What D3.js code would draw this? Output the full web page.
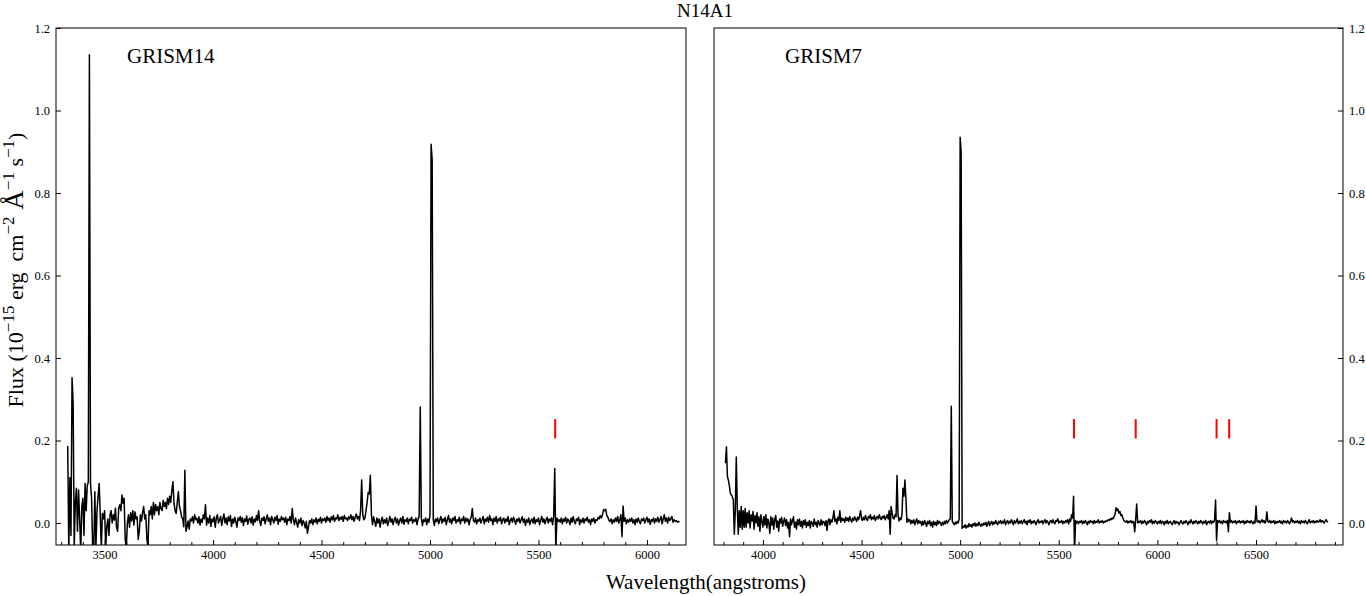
<!DOCTYPE html>
<html><head><meta charset="utf-8">
<script src="https://cdn.jsdelivr.net/npm/d3@7"></script>
<style>body{margin:0;background:#fff} svg text{font-family:"Liberation Serif","Times New Roman",serif;fill:#000}</style>
</head><body><svg id="c" width="1366" height="596"></svg>
<script>
const title = "N14A1";
const panelNames = ["GRISM14", "GRISM7"];
const yTicks = [0, 0.2, 0.4, 0.6, 0.8, 1.0, 1.2];
const xTicks14 = [3500, 4000, 4500, 5000, 5500, 6000];
const xTicks7 = [4000, 4500, 5000, 5500, 6000, 6500];
const skyLines14 = [5577];
const skyLines7 = [5577, 5890, 6300, 6364];
const markerRange = [0.205, 0.252];
const stepA = 5; // sampling step (Å) of each row: [start wavelength, fluxes...]

const grism14Rows = [
[3330, 0.187,-0.07,0.11,-0.03,0.352,0.29,-0.06,0.05,0.084,-0.02,0.08,0.01,-0.07,0.04,0.06,-0.03,0.096,0.03,0.09,0.10],
[3430, 1.135,0.096,0.06,-0.06,-0.07,0.076,-0.06,0.03,0.065,0.096,0.02,-0.06,0.023,0.01,0.03,-0.06,-0.01,0.01,-0.03,0.02],
[3530, 0.03,0.0,0.02,0.007,0.036,-0.01,-0.02,0.036,0.044,0.03,0.068,0.048,0.06,-0.04,-0.06,0.0,0.02,-0.01,0.025,0.005],
[3630, 0.03,-0.005,0.027,0.01,0.015,-0.04,-0.02,0.02,0.005,0.025,0.04,0.01,0.02,-0.04,-0.055,0.03,0.02,0.04,0.01,0.05],
[3730, 0.02,0.045,0.03,0.04,0.02,0.05,0.035,0.03,0.055,0.04,0.05,0.035,0.06,0.045,0.065,0.05,0.08,0.10,0.048,0.03],
[3830, 0.023,0.05,0.076,0.04,0.03,0.015,0.01,-0.009,0.128,-0.02,-0.01,0.005,-0.015,0.01,0.005,0.015,0.0,0.02,0.008,0.012],
[3930, 0.0,0.015,-0.005,0.01,0.002,0.02,0.01,0.044,-0.005,0.012,0.0,0.018,-0.008,0.01,0.003,0.015,-0.01,0.012,0.02,0.0],
[4030, 0.008,0.016,-0.006,0.01,0.022,0.0,0.012,-0.004,0.015,0.005,0.018,-0.008,0.01,0.0,0.014,0.004,-0.01,0.012,0.006,0.016],
[4130, 0.002,0.013,-0.006,0.01,0.004,0.017,-0.003,0.009,0.012,0.0,0.015,-0.005,0.01,0.003,0.018,0.006,0.03,0.004,-0.006,0.012],
[4230, 0.006,0.015,-0.002,0.01,0.02,0.004,0.012,-0.004,0.016,0.008,0.0,0.014,0.006,0.018,-0.003,0.01,0.004,0.016,0.008,0.012],
[4330, 0.002,0.014,-0.004,0.01,0.006,0.016,0.0,0.035,0.008,-0.004,0.012,0.002,-0.01,0.008,0.0,0.012,-0.006,0.006,0.0,-0.012],
[4430, 0.004,-0.025,-0.008,0.006,0.0,0.01,-0.004,0.008,0.002,0.012,-0.002,0.009,0.004,0.014,0.0,0.01,0.006,0.012,0.002,0.016],
[4530, 0.006,0.012,0.002,0.015,0.008,0.018,0.004,0.012,0.01,0.02,0.006,0.014,0.009,0.016,0.004,0.018,0.01,0.012,0.006,0.015],
[4630, 0.01,0.02,0.008,0.016,0.004,0.014,0.022,0.01,0.016,0.006,0.03,0.104,0.02,0.008,0.012,0.03,0.05,0.074,0.07,0.116],
[4730, 0.02,-0.004,0.015,0.004,-0.008,0.012,0.0,0.01,-0.01,0.006,0.014,-0.002,0.008,0.0,0.012,-0.006,0.004,0.016,0.002,0.01],
[4830, -0.004,0.008,0.014,0.0,0.01,-0.005,0.006,0.012,0.0,0.016,-0.003,0.008,0.004,0.012,-0.002,0.01,0.006,0.014,0.0,0.008],
[4930, 0.004,0.012,-0.004,0.01,0.016,0.281,0.012,-0.006,0.008,0.004,0.012,-0.004,0.01,0.002,0.02,0.918,0.88,0.008,-0.006,0.01],
[5030, 0.004,0.012,-0.002,0.008,0.016,0.0,0.01,0.004,0.014,-0.004,0.008,0.018,0.002,0.01,-0.002,0.012,0.006,0.016,0.0,0.008],
[5130, 0.004,0.014,-0.002,0.01,0.006,0.016,0.0,0.012,0.004,0.01,-0.004,0.008,0.014,0.035,0.006,0.002,0.012,-0.002,0.008,0.004],
[5230, 0.012,0.0,0.008,0.016,-0.002,0.01,0.004,0.014,0.002,0.018,0.006,0.01,-0.004,0.012,0.004,0.016,0.0,0.01,0.006,0.014],
[5330, -0.002,0.008,0.012,0.0,0.01,0.004,0.016,-0.004,0.006,0.012,0.002,0.014,0.006,-0.003,0.01,0.004,0.012,0.0,0.008,0.015],
[5430, 0.002,0.01,-0.006,0.008,0.002,0.012,-0.004,0.006,0.01,0.0,0.014,-0.002,0.008,0.004,0.012,-0.004,0.006,0.016,0.002,0.01],
[5530, -0.002,0.008,0.014,0.0,0.01,0.004,0.012,-0.004,0.016,0.132,-0.065,0.012,0.004,0.008,0.002,0.012,-0.002,0.01,0.004,0.014],
[5630, 0.0,0.01,0.006,-0.004,0.012,0.002,0.016,0.004,-0.002,0.01,0.006,0.014,-0.004,0.008,0.002,0.012,0.0,0.01,0.006,0.014],
[5730, 0.002,0.008,-0.004,0.01,0.004,0.012,0.0,0.008,0.006,0.014,0.01,0.018,0.012,0.02,0.033,0.03,0.033,0.018,0.014,0.006],
[5830, 0.004,0.01,-0.002,0.008,0.002,0.012,0.004,0.016,0.0,0.008,0.02,-0.033,0.041,0.004,0.012,-0.002,0.008,0.002,0.01,0.004],
[5930, 0.012,0.0,0.008,-0.004,0.01,0.002,0.012,0.004,-0.002,0.01,0.006,0.012,0.0,0.008,0.014,0.002,0.01,-0.003,0.008,0.004],
[6030, 0.012,0.0,0.01,0.004,0.014,0.002,0.008,0.016,-0.002,0.01,0.02,0.004,0.012,0.0,0.014,0.006,0.01,0.016,0.002,0.008],
[6130, 0.004,0.006,0.002,0.004,0.002]
];

const grism7Rows = [
[3810, 0.145,0.185,0.112,0.104,0.09,0.072,0.068,0.064,0.056,-0.027,0.03,0.16,0.04,-0.027,0.03,-0.01,0.04,-0.015,0.03,-0.01],
[3910, 0.035,-0.01,0.025,0.0,0.03,-0.012,0.02,0.005,0.028,-0.015,0.018,0.0,0.025,-0.008,0.015,-0.02,0.02,0.004,-0.01,0.016],
[4010, -0.005,0.02,-0.012,0.01,0.0,-0.025,0.015,-0.005,0.012,-0.015,0.008,0.018,-0.01,0.005,-0.02,0.01,0.0,0.014,-0.008,0.004],
[4110, 0.012,-0.006,0.008,-0.012,0.002,-0.033,0.01,-0.004,0.006,0.015,-0.01,0.002,-0.015,0.008,-0.004,0.01,-0.008,0.004,-0.012,0.006],
[4210, -0.004,0.008,-0.01,0.002,-0.006,0.006,-0.012,0.004,0.0,-0.008,0.01,-0.004,0.002,-0.01,0.006,0.0,-0.006,0.008,-0.004,0.004],
[4310, 0.002,-0.006,0.006,-0.018,0.004,0.01,-0.004,0.008,0.002,0.012,0.03,0.004,0.01,-0.002,0.014,0.006,0.03,0.002,0.012,0.006],
[4410, 0.01,0.002,0.014,0.006,0.012,0.004,0.016,0.008,0.002,0.012,0.006,0.015,0.01,0.004,0.014,0.008,0.018,0.03,0.01,0.006],
[4510, 0.014,0.008,0.018,0.01,0.006,0.016,0.012,0.02,0.008,0.014,0.01,0.018,0.006,0.012,0.016,0.01,0.02,0.012,0.008,0.016],
[4610, 0.012,0.018,0.008,0.014,0.02,0.01,0.03,-0.027,0.04,0.025,0.012,0.01,0.02,0.015,0.115,0.02,0.005,0.012,0.008,0.02],
[4710, 0.084,0.065,0.104,0.06,0.002,0.01,0.004,0.008,-0.002,0.006,0.0,0.008,-0.004,0.004,0.01,-0.002,0.006,0.0,0.004,-0.006],
[4810, 0.004,-0.004,0.006,0.0,-0.008,0.004,-0.002,0.006,-0.006,0.002,-0.01,0.004,-0.004,0.002,-0.006,0.006,-0.002,0.004,0.0,-0.006],
[4910, 0.002,-0.004,0.004,-0.002,0.006,0.0,0.004,0.008,0.01,0.283,0.004,0.0,-0.004,0.002,-0.002,0.004,0.0,0.01,0.935,0.9],
[5010, -0.013,-0.008,-0.01,-0.004,-0.012,-0.006,-0.01,-0.002,-0.008,-0.004,-0.01,-0.002,-0.006,0.0,-0.008,-0.002,-0.006,0.002,-0.004,-0.008],
[5110, -0.002,-0.006,0.0,-0.004,0.002,-0.008,-0.002,0.004,-0.006,0.0,0.004,-0.004,0.002,-0.002,0.006,0.0,-0.004,0.004,0.0,0.006],
[5210, -0.002,0.004,0.0,0.008,-0.004,0.002,0.006,-0.002,0.004,0.0,0.008,0.002,-0.004,0.006,0.0,0.004,0.01,-0.002,0.004,0.0],
[5310, 0.006,-0.002,0.004,0.008,0.0,0.004,-0.004,0.006,0.002,0.008,-0.002,0.004,0.0,0.006,0.002,-0.004,0.004,0.008,0.0,0.004],
[5410, 0.002,0.006,-0.002,0.004,0.008,0.0,0.006,0.002,-0.004,0.004,0.006,0.0,0.008,0.002,-0.002,0.006,0.004,0.01,0.0,0.004],
[5510, 0.002,0.006,-0.002,0.004,0.0,0.006,0.002,0.008,-0.002,0.01,0.004,0.02,0.012,0.065,-0.07,0.006,0.0,0.004,-0.002,0.004],
[5610, 0.002,0.006,-0.002,0.004,0.0,0.006,0.002,-0.004,0.004,0.0,0.006,0.002,0.004,-0.002,0.006,0.0,0.004,0.002,0.008,0.0],
[5710, 0.004,0.002,0.006,0.0,0.004,0.002,0.006,0.004,0.008,0.006,0.01,0.008,0.012,0.01,0.016,0.02,0.037,0.03,0.034,0.024],
[5810, 0.028,0.018,0.02,0.012,0.006,0.004,0.002,0.006,0.0,0.004,0.002,0.006,0.0,0.004,0.002,-0.021,0.01,0.046,0.0,0.004],
[5910, 0.002,0.006,-0.002,0.004,0.0,0.006,0.002,-0.004,0.004,0.0,0.006,0.002,0.008,-0.002,0.004,0.0,0.006,0.002,-0.002,0.004],
[6010, 0.0,0.006,-0.002,0.004,0.002,-0.004,0.004,0.0,0.006,-0.002,0.002,0.004,0.0,-0.004,0.002,0.006,-0.002,0.004,0.0,0.002],
[6110, -0.004,0.002,0.006,0.0,-0.002,0.004,0.0,0.006,0.002,-0.004,0.004,0.0,0.008,0.002,-0.002,0.004,0.0,0.006,0.002,-0.002],
[6210, 0.004,0.0,0.006,0.002,-0.002,0.004,0.0,0.006,-0.004,0.002,0.004,0.0,0.006,-0.002,0.004,0.002,0.008,0.056,-0.043,0.006],
[6310, 0.002,0.006,0.0,0.004,-0.002,0.006,0.002,0.004,0.0,0.006,-0.021,0.025,0.002,0.006,0.0,0.004,0.002,0.006,-0.002,0.004],
[6410, 0.002,0.006,0.0,0.004,0.002,0.006,-0.002,0.004,0.0,0.006,0.002,0.004,0.0,0.006,0.002,-0.002,0.004,0.0,0.041,0.004],
[6510, 0.002,0.006,0.0,0.004,0.008,0.002,0.006,0.0,0.004,0.027,0.004,0.002,0.006,0.0,0.004,0.002,0.006,-0.002,0.004,0.0],
[6610, 0.004,0.002,0.006,0.0,0.004,-0.002,0.006,0.002,0.004,0.0,0.006,0.002,-0.002,0.004,0.012,0.002,0.006,0.0,0.004,0.002],
[6710, 0.006,0.0,0.004,-0.002,0.006,0.002,0.004,0.0,0.006,0.002,-0.002,0.004,0.008,0.0,0.004,0.002,0.006,0.0,0.004,0.002],
[6810, 0.006,0.002,0.004,0.008,0.002,0.006,0.004,0.0,0.004,0.008,0.004,0.002]
];

const expand = rows => rows.flatMap(r => r.slice(1).map((f, i) => ({w: r[0] + i * stepA, f})));

const svg = d3.select("#c");
const plotTop = 28, plotBottom = 545;
const y = d3.scaleLinear().domain([-0.0533, 1.2]).range([plotBottom, plotTop]);

const panels = [
  {name: panelNames[0], data: expand(grism14Rows), x: d3.scaleLinear().domain([3276, 6180]).range([56, 686]),
   ticks: xTicks14, sky: skyLines14, side: "left"},
  {name: panelNames[1], data: expand(grism7Rows), x: d3.scaleLinear().domain([3752, 6941]).range([714, 1343]),
   ticks: xTicks7, sky: skyLines7, side: "right"}
];

panels.forEach((p, k) => {
  const [x0, x1] = p.x.range();
  const id = "clip" + k;
  svg.append("clipPath").attr("id", id).append("rect")
    .attr("x", x0).attr("y", plotTop).attr("width", x1 - x0).attr("height", plotBottom - plotTop);

  svg.append("path").datum(p.data)
    .attr("clip-path", `url(#${id})`)
    .attr("fill", "none").attr("stroke", "#000").attr("stroke-width", 1.5)
    .attr("stroke-linejoin", "round")
    .attr("d", d3.line().x(d => p.x(d.w)).y(d => y(d.f)));

  svg.append("g").selectAll("line").data(p.sky).join("line")
    .attr("x1", d => p.x(d)).attr("x2", d => p.x(d))
    .attr("y1", y(markerRange[0])).attr("y2", y(markerRange[1]))
    .attr("stroke", "#ff0000").attr("stroke-width", 2);

  const dom = p.x.domain();
  const minor = d3.range(Math.ceil(dom[0] / 100) * 100, dom[1], 100).filter(v => v % 500 !== 0);
  const gMin = svg.append("g").attr("transform", `translate(0,${plotBottom})`)
    .call(d3.axisBottom(p.x).tickValues(minor).tickSize(-3).tickFormat(""));
  gMin.select(".domain").remove();
  const gx = svg.append("g").attr("transform", `translate(0,${plotBottom})`)
    .call(d3.axisBottom(p.x).tickValues(p.ticks).tickSize(-5).tickPadding(5).tickFormat(d3.format("d")));
  gx.select(".domain").remove();
  gx.selectAll("text").style("font-size", "12.5px").style("font-family", "'Liberation Serif', serif");

  const yAx = p.side === "left" ? d3.axisLeft(y) : d3.axisRight(y);
  const gy = svg.append("g").attr("transform", `translate(${p.side === "left" ? x0 : x1},0)`)
    .call(yAx.tickValues(yTicks).tickSize(-5).tickPadding(6).tickFormat(d3.format(".1f")));
  gy.select(".domain").remove();
  gy.selectAll("text").style("font-size", "12.5px").style("font-family", "'Liberation Serif', serif");

  svg.append("rect").attr("x", x0).attr("y", plotTop).attr("width", x1 - x0).attr("height", plotBottom - plotTop)
    .attr("fill", "none").attr("stroke", "#000").attr("stroke-width", 1);

  svg.append("text").attr("x", x0 + 71).attr("y", 63).style("font-size", "21px").text(p.name);
});

svg.append("text").attr("x", 705).attr("y", 17).attr("text-anchor", "middle")
  .style("font-size", "19px").text(title);

svg.append("text").attr("x", 706).attr("y", 589).attr("text-anchor", "middle")
  .style("font-size", "21px").text("Wavelength(angstroms)");

const yl = svg.append("text").attr("transform", "translate(23,270) rotate(-90)")
  .attr("text-anchor", "middle").style("font-size", "22px");
const parts = [["Flux (10", 0, 22], ["\u221215", 1, 17], ["\u00A0erg\u00A0\u00A0cm", 0, 22], ["\u22122", 1, 17],
  ["\u00A0\u00C5", 0, 27], ["\u22121", 1, 17], ["\u00A0s", 0, 22], ["\u22121", 1, 17], [")", 0, 22]];
let prevSup = 0;
parts.forEach(([t, sup, fs]) => {
  const ts = yl.append("tspan").text(t).style("font-size", fs + "px");
  if (sup !== prevSup) ts.attr("dy", sup ? -9 : 9);
  prevSup = sup;
});
</script></body></html>
